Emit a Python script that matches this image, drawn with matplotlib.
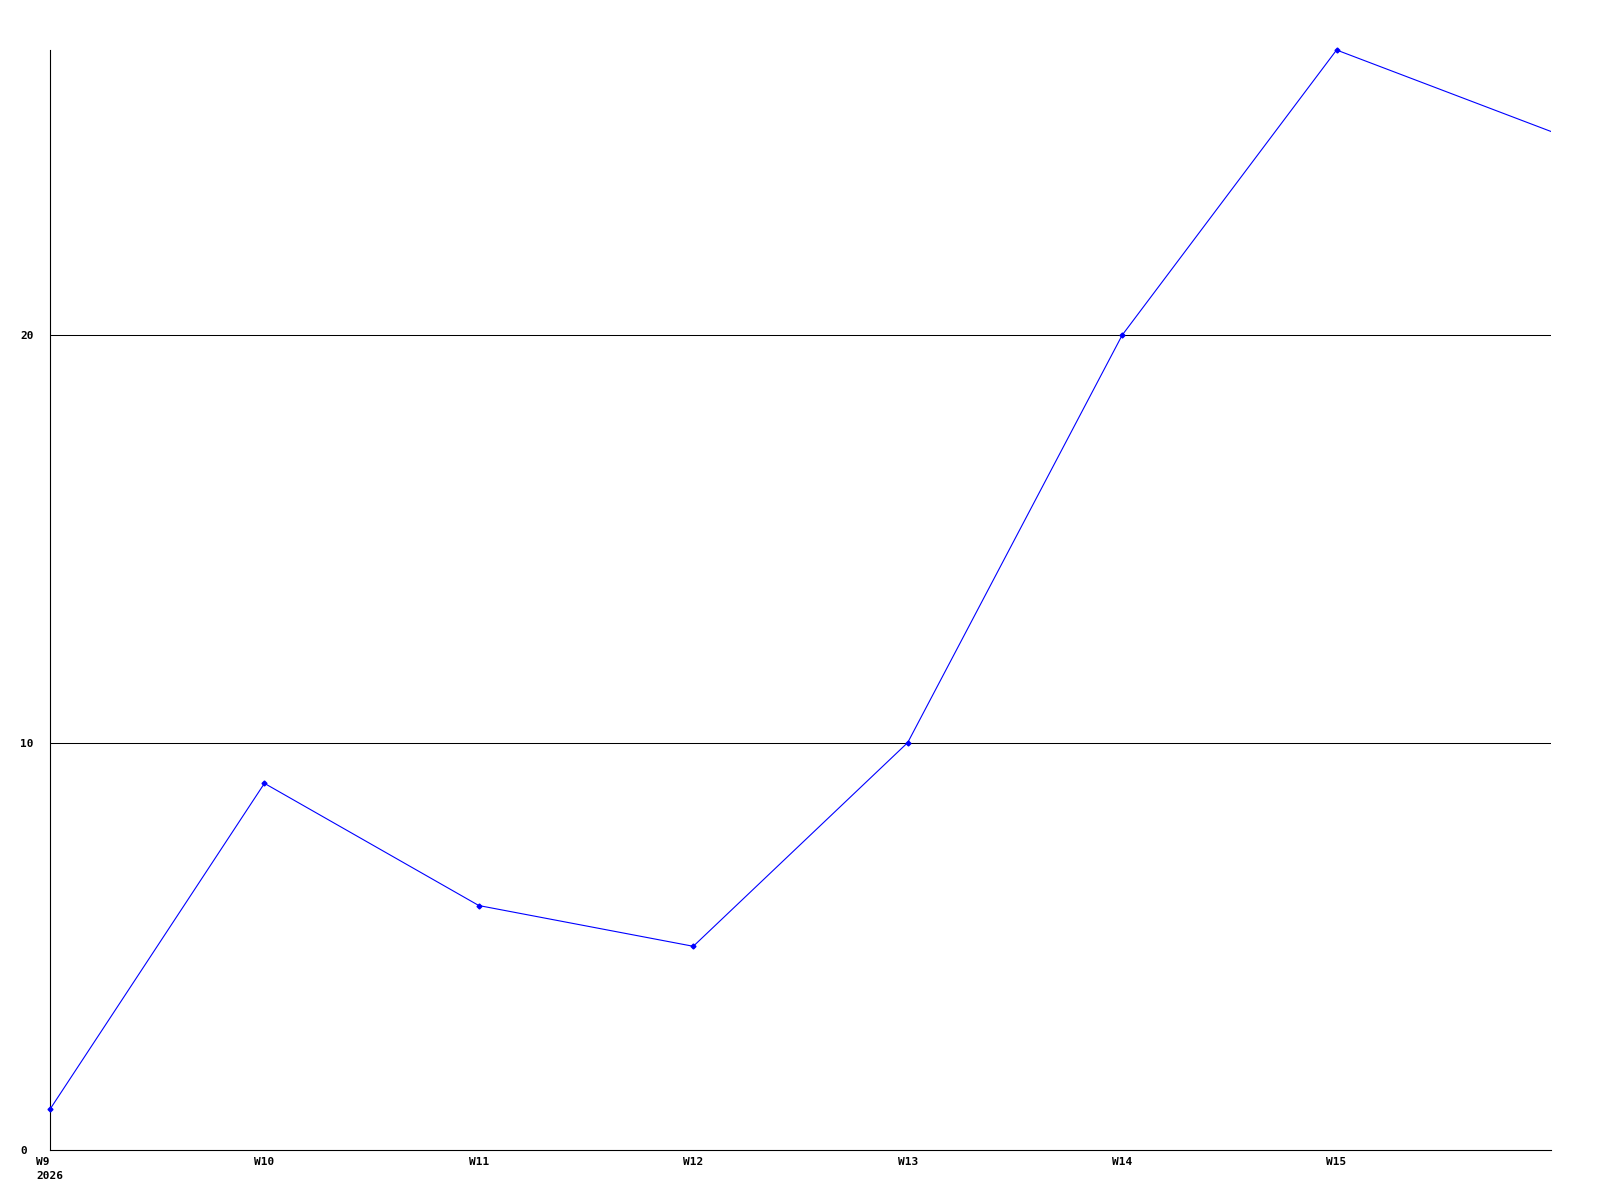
import matplotlib
matplotlib.use('Agg')
import matplotlib.pyplot as plt

# Weekly values
weeks = [9, 10, 11, 12, 13, 14, 15, 16]
values = [1, 9, 6, 5, 10, 20, 27, 25]
tick_weeks = [9, 10, 11, 12, 13, 14, 15]
tick_labels = ['W9\n2026', 'W10', 'W11', 'W12', 'W13', 'W14', 'W15']
y_ticks = [0, 10, 20]

plt.rcParams['font.family'] = 'DejaVu Sans Mono'
plt.rcParams['font.weight'] = 'bold'
plt.rcParams['font.size'] = 8

fig = plt.figure(figsize=(16, 12), dpi=100)
ax = fig.add_axes([50 / 1600, 1 - 1150 / 1200, 1501 / 1600, 1100 / 1200])

# Horizontal grid lines at the labelled values (not at 0)
for y in y_ticks[1:]:
    ax.axhline(y, color='black', linewidth=0.75, zorder=1)

# Data line
ax.plot(weeks, values, color='#0000ff', linewidth=0.8, zorder=3)
# Markers on all but the last point (which sits on the right edge), not clipped
ax.plot(weeks[:-1], values[:-1], linestyle='none', color='#0000ff', marker='D',
        markersize=2.5, clip_on=False, zorder=4)

ax.set_xlim(9, 16)
ax.set_ylim(0, 27)

ax.set_xticks(tick_weeks)
ax.set_xticklabels(tick_labels, multialignment='left', linespacing=1.5)
ax.set_yticks(y_ticks)
ax.set_yticklabels([str(v) for v in y_ticks])
for lbl in ax.get_yticklabels():
    lbl.set_horizontalalignment('left')

ax.tick_params(axis='x', length=0, pad=5)
ax.tick_params(axis='y', length=0, pad=21.6)

for side in ['top', 'right']:
    ax.spines[side].set_visible(False)
for side in ['left', 'bottom']:
    ax.spines[side].set_linewidth(0.8)
    ax.spines[side].set_color('black')

fig.savefig('out.png', dpi=100)
